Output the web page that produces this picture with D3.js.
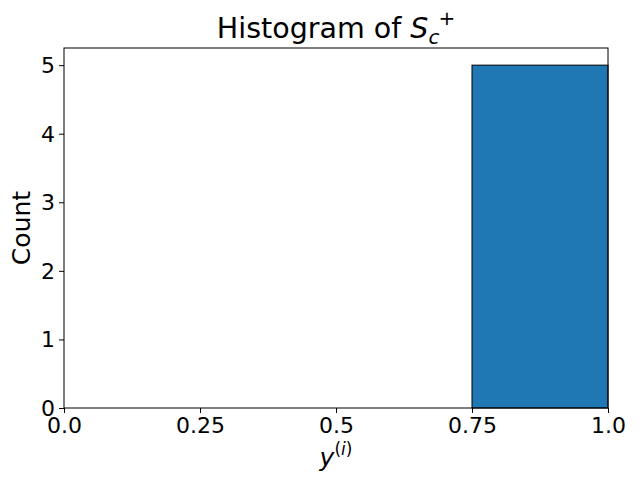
<!DOCTYPE html>
<html>
<head>
<meta charset="utf-8">
<script src="https://cdn.jsdelivr.net/npm/d3@7"></script>
<style>
  body { margin: 0; background: #fff; }
  svg { font-family: "DejaVu Sans", sans-serif; }
</style>
</head>
<body>
<svg id="svg"></svg>
<script>
// histogram data
const binEdges = [0, 0.25, 0.5, 0.75, 1.0];
const counts = [0, 0, 0, 5];
const xTicks = [0, 0.25, 0.5, 0.75, 1.0];
const xTickLabels = ["0.0", "0.25", "0.5", "0.75", "1.0"];
const yTicks = [0, 1, 2, 3, 4, 5];

const margin = {top: 48, right: 32, bottom: 72, left: 64},
  width = 640 - margin.left - margin.right,
  height = 480 - margin.top - margin.bottom;

const svg = d3.select("svg")
  .attr("width", 640)
  .attr("height", 480);

const g = svg.append("g")
  .attr("transform", `translate(${margin.left},${margin.top})`);

const x = d3.scaleLinear().domain([0, 1]).range([0, width]);
const y = d3.scaleLinear().domain([0, 5.25]).range([height, 0]);

const bins = counts.map((c, i) => ({x0: binEdges[i], x1: binEdges[i + 1], count: c}));

// bars
g.selectAll("rect.bar")
  .data(bins.filter(d => d.count > 0))
  .enter()
  .append("rect")
  .attr("class", "bar")
  .attr("x", d => x(d.x0))
  .attr("y", d => y(d.count))
  .attr("width", d => x(d.x1) - x(d.x0))
  .attr("height", d => y(0) - y(d.count))
  .attr("fill", "#1f77b4")
  .attr("stroke", "#000")
  .attr("stroke-width", 1);

// axes
const xAxis = g.append("g")
  .attr("transform", `translate(0,${height})`)
  .call(d3.axisBottom(x).tickValues(xTicks).tickFormat((d, i) => xTickLabels[i]).tickSize(5).tickPadding(4));
const yAxis = g.append("g")
  .call(d3.axisLeft(y).tickValues(yTicks).tickFormat(d3.format("d")).tickSize(5).tickPadding(4));

[xAxis, yAxis].forEach(a => {
  a.select(".domain").remove();
  a.selectAll("text").attr("font-size", 22).attr("fill", "#000").attr("font-family", "DejaVu Sans");
  a.selectAll("line").attr("stroke", "#000");
});
yAxis.selectAll("text").attr("dy", "0.34em");

// frame
g.append("rect")
  .attr("x", 0).attr("y", 0)
  .attr("width", width).attr("height", height)
  .attr("fill", "none")
  .attr("stroke", "#000")
  .attr("stroke-width", 1);

// title
const title = svg.append("text")
  .attr("x", margin.left + width / 2)
  .attr("y", 38)
  .attr("text-anchor", "middle")
  .attr("font-size", 28.5);
title.append("tspan").text("Histogram of ");
title.append("tspan").attr("font-style", "italic").text("S");
title.append("tspan").attr("font-style", "italic").attr("font-size", 20).attr("dy", 6).text("c");
title.append("tspan").attr("font-size", 20).attr("dy", -19).attr("dx", -1).text("+");

// x label
const xl = svg.append("text")
  .attr("x", margin.left + width / 2)
  .attr("y", 466)
  .attr("text-anchor", "middle")
  .attr("font-size", 25);
xl.append("tspan").attr("font-style", "italic").text("y");
xl.append("tspan").attr("font-size", 17).attr("dy", -11).text("(");
xl.append("tspan").attr("font-size", 17).attr("font-style", "italic").text("i");
xl.append("tspan").attr("font-size", 17).text(")");

// y label
svg.append("text")
  .attr("transform", `translate(30,${margin.top + height / 2}) rotate(-90)`)
  .attr("text-anchor", "middle")
  .attr("font-size", 25)
  .text("Count");
</script>
</body>
</html>
